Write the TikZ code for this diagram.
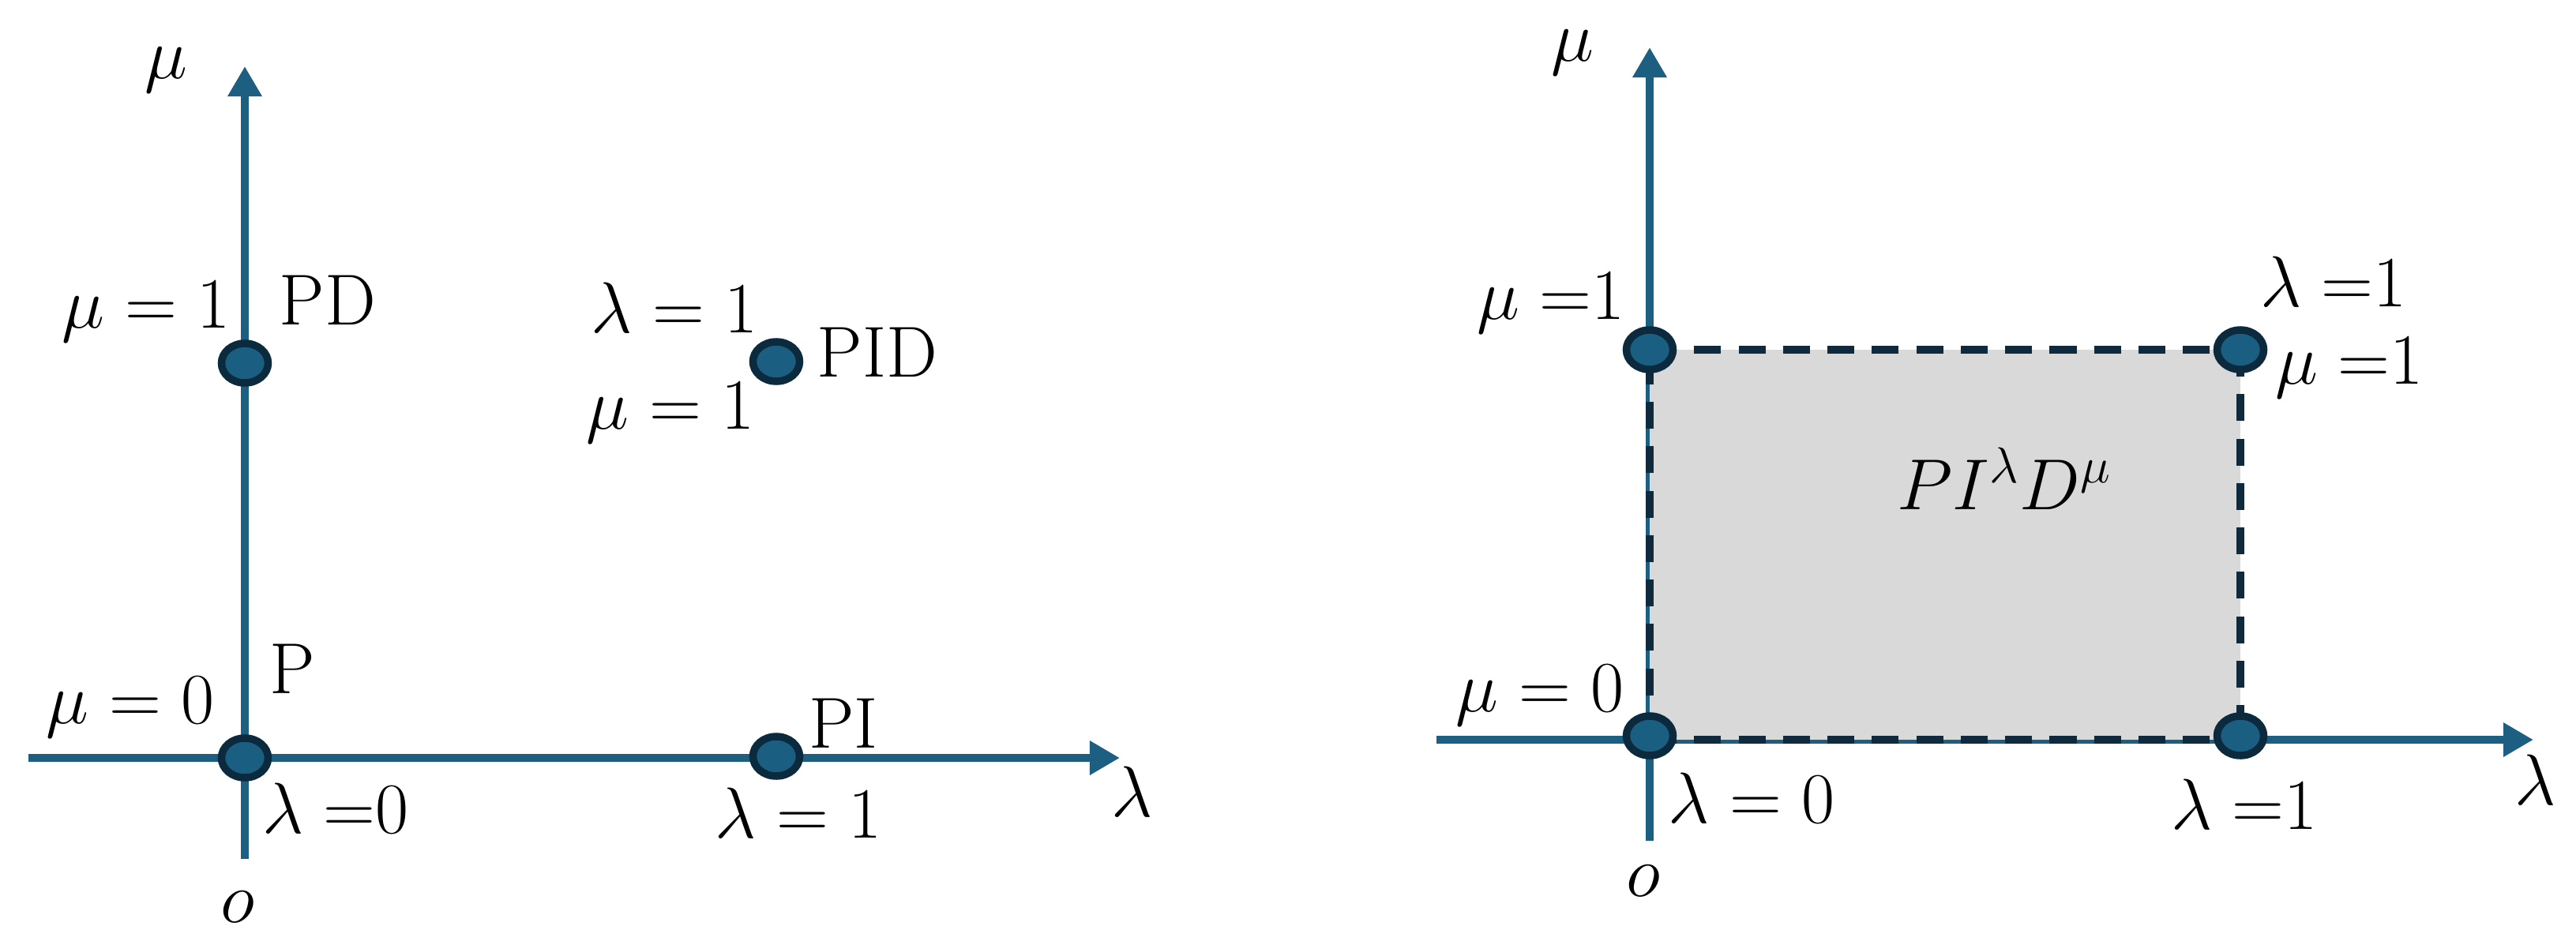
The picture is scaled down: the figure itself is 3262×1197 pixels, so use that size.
\RequirePackage{fix-cm}
\documentclass[tikz,border=0pt]{standalone}
\usepackage{fontspec}
\usetikzlibrary{arrows.meta,shapes.geometric}
\definecolor{axisblue}{HTML}{1D5F80}
\definecolor{dotfill}{HTML}{1A5F82}
\definecolor{dotedge}{HTML}{0B2A3E}
\definecolor{dashdark}{HTML}{0E2A3C}
\definecolor{regiongray}{HTML}{D9D9D9}
\tikzset{
  axisline/.style={draw=axisblue, line width=2.7pt, -{Triangle[width=0.41cm,length=0.38cm]}},
  dotnode/.style={ellipse, fill=dotfill, draw=dotedge, line width=2.7pt, minimum width=0.59cm, minimum height=0.5cm, inner sep=0pt},
  lbl/.style={anchor=base, inner sep=0pt, text=black},
  edgedash/.style={draw=dashdark, line width=2.8pt, dash pattern=on 9.7pt off 6.3pt}
}
\begin{document}
\begin{tikzpicture}[x=0.01cm, y=-0.01cm, font=\fontsize{26}{30}\selectfont]
\useasboundingbox (0,0) rectangle (3262,1197);

% ---------------- left panel ----------------
\coordinate (Lbot) at (310,1088);
\coordinate (Ltop) at (310,84);
\coordinate (Lleft) at (36,960);
\coordinate (Lright) at (1418,960);
\draw[axisline] (Lbot) -- (Ltop);
\draw[axisline] (Lleft) -- (Lright);

\node[dotnode] (dPD)  at (310,460) {};
\node[dotnode] (dP)   at (310,960) {};
\node[dotnode] (dPID) at (983,458) {};
\node[dotnode] (dPI)  at (983,958) {};

\node[lbl] (Lmuaxis) at (210,100) {$\mu$};
\node[lbl] (LmuPD) at (185,416) {$\mu = 1$};
\node[lbl] (LPD) at (415,412) {PD};
\node[lbl] (LlamPID) at (854,422) {$\lambda = 1$};
\node[lbl] (LmuPID) at (849,543) {$\mu = 1$};
\node[lbl] (LPID) at (1111,477) {PID};
\node[lbl] (LP) at (370,878) {P};
\node[lbl] (Lmu0) at (165,916) {$\mu = 0$};
\node[lbl] (LPI) at (1068,947) {PI};
\node[lbl] (Llam0) at (425,1055) {$\lambda\;{=}0$};
\node[lbl] (Llam1) at (1011,1061) {$\lambda = 1$};
\node[lbl] (Llamaxis) at (1434,1034) {$\lambda$};
\node[lbl] (Lo) at (301,1168) {$o$};

% ---------------- right panel ----------------
\coordinate (Rbot) at (2089,1065);
\coordinate (Rtop) at (2089,60);
\coordinate (Rleft) at (1819,937);
\coordinate (Rright) at (3208,937);
\draw[axisline] (Rbot) -- (Rtop);
\draw[axisline] (Rleft) -- (Rright);

\coordinate (c00) at (2089,937);
\coordinate (c10) at (2837,937);
\coordinate (c01) at (2089,443);
\coordinate (c11) at (2837,443);
\fill[regiongray] (c01) rectangle (c10);
\draw[edgedash] (c01) -- (c11);
\draw[edgedash] (c11) -- (c10);
\draw[edgedash] (c00) -- (c10);
\draw[edgedash] (c00) -- (c01);

\node[dotnode] (r01) at (2089,443) {};
\node[dotnode] (r11) at (2837,443) {};
\node[dotnode] (r00) at (2089,932) {};
\node[dotnode] (r10) at (2837,932) {};

\node[lbl] (Rmuaxis) at (1991,78) {$\mu$};
\node[lbl] (Rmu1) at (1964,405) {$\mu\;{=}1$};
\node[lbl] (Rlam1top) at (2955,389) {$\lambda\;{=}1$};
\node[lbl] (Rmu1right) at (2975,486) {$\mu\;{=}1$};
\node[lbl] (Rregion) at (2538,645) {$PI^{\lambda}D^{\mu}$};
\node[lbl] (Rmu0) at (1950,901) {$\mu = 0$};
\node[lbl] (Rlam0) at (2218,1042) {$\lambda = 0$};
\node[lbl] (Rlam1) at (2842,1050) {$\lambda\;{=}1$};
\node[lbl] (Rlamaxis) at (3211,1019) {$\lambda$};
\node[lbl] (Ro) at (2081,1135) {$o$};
\end{tikzpicture}
\end{document}
